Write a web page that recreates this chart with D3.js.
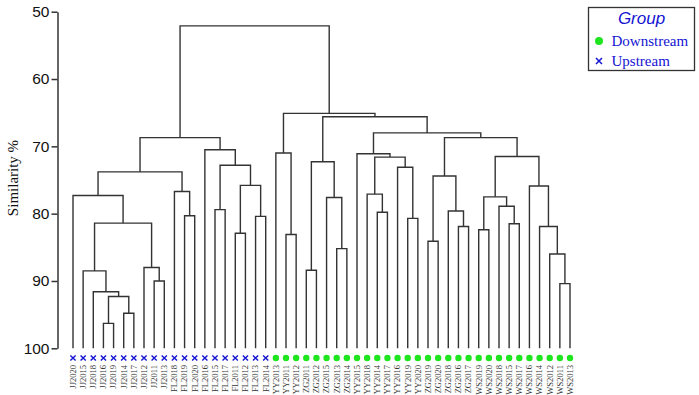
<!DOCTYPE html>
<html>
<head>
<meta charset="utf-8">
<script src="https://cdn.jsdelivr.net/npm/d3@7"></script>
<style>
  html, body { margin: 0; padding: 0; background: #fff; }
  svg { display: block; }
</style>
</head>
<body>
<svg id="chart" width="699" height="395"></svg>
<script>
// ---------- data ----------
const leaves = ["JJ2020","JJ2015","JJ2018","JJ2016","JJ2019","JJ2014","JJ2017","JJ2012","JJ2011","JJ2013",
  "FL2018","FL2019","FL2020","FL2016","FL2015","FL2017","FL2011","FL2012","FL2013","FL2014",
  "YY2013","YY2011","YY2012","ZG2011","ZG2012","ZG2015","ZG2013","ZG2014","YY2015","YY2018",
  "YY2014","YY2017","YY2016","YY2019","YY2020","ZG2019","ZG2020","ZG2018","ZG2016","ZG2017",
  "WS2019","WS2020","WS2018","WS2015","WS2017","WS2016","WS2014","WS2012","WS2011","WS2013"];

const leafGroups = ["Upstream","Upstream","Upstream","Upstream","Upstream","Upstream","Upstream","Upstream","Upstream","Upstream",
  "Upstream","Upstream","Upstream","Upstream","Upstream","Upstream","Upstream","Upstream","Upstream","Upstream",
  "Downstream","Downstream","Downstream","Downstream","Downstream","Downstream","Downstream","Downstream","Downstream","Downstream",
  "Downstream","Downstream","Downstream","Downstream","Downstream","Downstream","Downstream","Downstream","Downstream","Downstream",
  "Downstream","Downstream","Downstream","Downstream","Downstream","Downstream","Downstream","Downstream","Downstream","Downstream"];

// merges: [id, childA, childB, similarity %]
const merges = [
  ["m1","JJ2016","JJ2019",96.3],
  ["m2","JJ2014","JJ2017",94.8],
  ["m3","m1","m2",92.3],
  ["m4","JJ2018","m3",91.6],
  ["m5","JJ2015","m4",88.5],
  ["m6","JJ2011","JJ2013",90.0],
  ["m7","JJ2012","m6",88.0],
  ["m8","m5","m7",81.4],
  ["m9","JJ2020","m8",77.3],
  ["m10","FL2019","FL2020",80.3],
  ["m11","FL2018","m10",76.7],
  ["m12","m9","m11",73.8],
  ["m13","FL2015","FL2017",79.4],
  ["m14","FL2011","FL2012",82.9],
  ["m15","FL2013","FL2014",80.4],
  ["m16","m14","m15",75.8],
  ["m17","m13","m16",72.8],
  ["m18","FL2016","m17",70.5],
  ["m19","m12","m18",68.7],
  ["d1","YY2011","YY2012",83.1],
  ["d2","YY2013","d1",71.0],
  ["d3","ZG2011","ZG2012",88.4],
  ["d4","ZG2013","ZG2014",85.2],
  ["d5","ZG2015","d4",77.6],
  ["d6","d3","d5",72.3],
  ["d7","YY2014","YY2017",79.8],
  ["d8","YY2018","d7",77.1],
  ["d9","YY2019","YY2020",80.7],
  ["d10","YY2016","d9",73.1],
  ["d11","d8","d10",71.6],
  ["d12","YY2015","d11",71.1],
  ["d13","ZG2019","ZG2020",84.1],
  ["d14","ZG2016","ZG2017",81.9],
  ["d15","ZG2018","d14",79.6],
  ["d16","d13","d15",74.4],
  ["d17","WS2019","WS2020",82.4],
  ["d18","WS2015","WS2017",81.5],
  ["d19","WS2018","d18",78.9],
  ["d20","d17","d19",77.5],
  ["d21","WS2011","WS2013",90.4],
  ["d22","WS2012","d21",86.0],
  ["d23","WS2014","d22",81.9],
  ["d24","WS2016","d23",75.9],
  ["d25","d20","d24",71.5],
  ["d26","d16","d25",68.7],
  ["d27","d12","d26",68.0],
  ["d28","d6","d27",65.6],
  ["d29","d2","d28",65.1],
  ["root","m19","d29",52.1]
];

const yTicks = [50, 60, 70, 80, 90, 100];
const legendItems = ["Downstream", "Upstream"];

// ---------- build hierarchy ----------
const nodeMap = new Map();
leaves.forEach((name, i) => nodeMap.set(name, { name, sim: 100, group: leafGroups[i] }));
merges.forEach(([id, a, b, s]) => {
  nodeMap.set(id, { name: id, sim: s, children: [nodeMap.get(a), nodeMap.get(b)] });
});
const root = d3.hierarchy(nodeMap.get("root"));

// ---------- scales ----------
const svg = d3.select("#chart");
const x = d3.scalePoint().domain(leaves).range([73, 570]);
const y = d3.scaleLinear().domain([50, 100]).range([11.7, 348.3]);

// positions: leaves by scale, internal nodes at midpoint of children
root.eachAfter(n => {
  if (!n.children) n.px = x(n.data.name);
  else n.px = (n.children[0].px + n.children[1].px) / 2;
  n.py = y(n.data.sim);
});

// ---------- axis ----------
const axis = d3.axisLeft(y).tickValues(yTicks).tickSize(6).tickSizeOuter(0).tickPadding(2);
const gAxis = svg.append("g").attr("transform", "translate(57.5,0)").call(axis);
gAxis.select(".domain").attr("stroke", "#333").attr("stroke-width", 1.5);
gAxis.selectAll(".tick line").attr("stroke", "#333").attr("stroke-width", 1.5);
gAxis.selectAll(".tick text")
  .attr("font-family", "Arial, 'Liberation Sans', sans-serif")
  .attr("font-size", 15.5)
  .attr("fill", "#111");

svg.append("text")
  .attr("transform", "translate(18,178) rotate(-90)")
  .attr("text-anchor", "middle")
  .attr("font-family", "'Times New Roman', 'Liberation Serif', serif")
  .attr("font-size", 15)
  .attr("fill", "#111")
  .text("Similarity %");

// ---------- dendrogram links ----------
const gLinks = svg.append("g")
  .attr("fill", "none")
  .attr("stroke", "#333")
  .attr("stroke-width", 1.4);

root.descendants().filter(n => n.children).forEach(n => {
  const [a, b] = n.children;
  const path = d3.path();
  path.moveTo(a.px, a.py);
  path.lineTo(a.px, n.py);
  path.lineTo(b.px, n.py);
  path.lineTo(b.px, b.py);
  gLinks.append("path").attr("d", path.toString());
});

// ---------- leaf markers & labels ----------
const leafNodes = root.leaves();
const markerY = 358;
const green = "#1ee61e", blue = "#1414d2";

leafNodes.forEach(n => {
  if (n.data.group === "Downstream") {
    svg.append("circle").attr("cx", n.px).attr("cy", markerY).attr("r", 3.2).attr("fill", green);
  } else {
    const s = 2.6;
    svg.append("path")
      .attr("d", `M${n.px - s},${markerY - s}L${n.px + s},${markerY + s}M${n.px - s},${markerY + s}L${n.px + s},${markerY - s}`)
      .attr("stroke", blue).attr("stroke-width", 1.4).attr("fill", "none");
  }
  svg.append("text")
    .attr("transform", `translate(${n.px + 2.9},365) rotate(-90)`)
    .attr("text-anchor", "end")
    .attr("font-family", "'Times New Roman', 'Liberation Serif', serif")
    .attr("font-size", 8.5)
    .attr("fill", "#333")
    .text(n.data.name);
});

// ---------- legend ----------
const lg = svg.append("g");
lg.append("rect").attr("x", 588.5).attr("y", 7.5).attr("width", 106).attr("height", 63)
  .attr("fill", "#fff").attr("stroke", "#333").attr("stroke-width", 1.3);
lg.append("text").attr("x", 641.5).attr("y", 24)
  .attr("text-anchor", "middle")
  .attr("font-family", "Arial, 'Liberation Sans', sans-serif")
  .attr("font-style", "italic").attr("font-size", 17).attr("fill", blue)
  .text("Group");
legendItems.forEach((name, i) => {
  const cy = 41 + i * 20;
  if (name === "Downstream") {
    lg.append("circle").attr("cx", 599).attr("cy", cy).attr("r", 4).attr("fill", green);
  } else {
    const s = 3;
    lg.append("path")
      .attr("d", `M${599 - s},${cy - s}L${599 + s},${cy + s}M${599 - s},${cy + s}L${599 + s},${cy - s}`)
      .attr("stroke", blue).attr("stroke-width", 1.5);
  }
  lg.append("text").attr("x", 611.5).attr("y", cy + 4.5)
    .attr("font-family", "'Times New Roman', 'Liberation Serif', serif")
    .attr("font-size", 15).attr("fill", blue)
    .text(name);
});
</script>
</body>
</html>
